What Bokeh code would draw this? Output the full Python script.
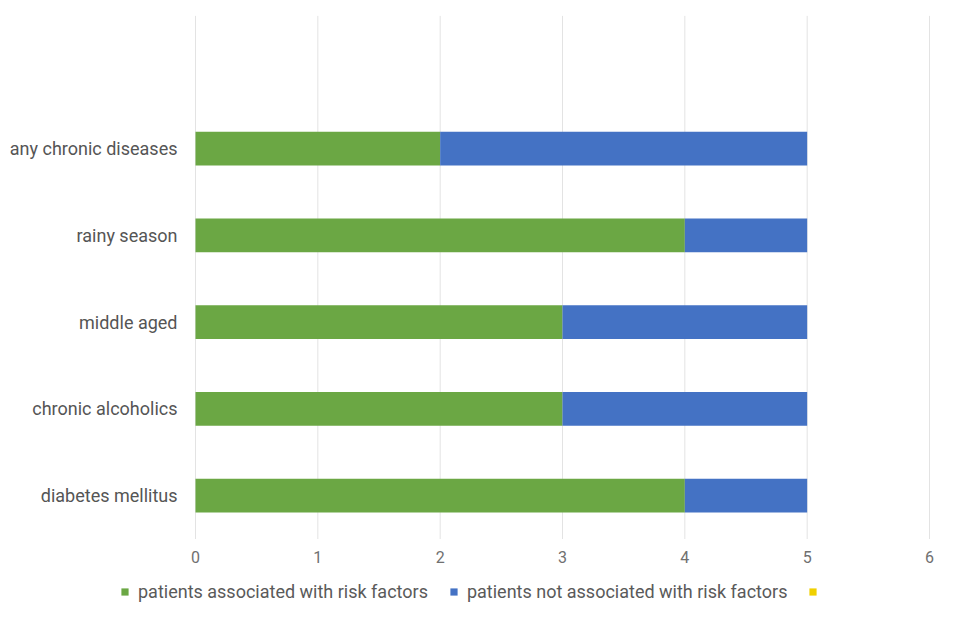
from bokeh.plotting import figure
from bokeh.models import ColumnDataSource, Legend, LegendItem, FixedTicker, Range1d
from bokeh.embed import file_html
from bokeh.resources import INLINE

categories = ["diabetes mellitus", "chronic alcoholics", "middle aged", "rainy season", "any chronic diseases"]
associated = [4, 3, 3, 4, 2]
not_associated = [1, 2, 2, 1, 3]
x_ticks = [0, 1, 2, 3, 4, 5, 6]
series_names = ["patients associated with risk factors", "patients not associated with risk factors", " "]
colors = ["#6ba744", "#4472c4", "#f0d000"]

pos = list(range(len(categories)))
left2 = associated
right2 = [a + b for a, b in zip(associated, not_associated)]
src = ColumnDataSource(dict(y=pos, a=associated, l2=left2, r2=right2))

# layout: value 0 at px 195, 6 at px 929; category slots 86.75 px, frame spans whole canvas
W, H = 955, 632
xpx = (929 - 195) / 6.0
ypx = 86.75
x0 = -195 / xpx
x1 = 6 + (W - 929) / xpx
ytop = 5.5 + 18 / ypx
ybot = 5.5 - (H - 18) / ypx

p = figure(frame_width=W, frame_height=H, output_backend="svg", toolbar_location=None,
           x_range=Range1d(x0, x1), y_range=Range1d(ybot, ytop),
           min_border=0)
p.outline_line_color = None
p.background_fill_color = "white"
p.xgrid.grid_line_color = None
p.ygrid.grid_line_color = None

grid_src = ColumnDataSource(dict(x=x_ticks))
p.segment(x0="x", y0=-0.5, x1="x", y1=5.53, source=grid_src, line_color="#e3e3e3", line_width=1)

r1 = p.hbar(y="y", left=0, right="a", height=0.39, source=src, color=colors[0], line_color=None)
r2 = p.hbar(y="y", left="l2", right="r2", height=0.39, source=src, color=colors[1], line_color=None)
r3 = p.hbar(y=[-5], left=[0], right=[0], height=0.39, color=colors[2], line_color=None)

p.xaxis.ticker = FixedTicker(ticks=x_ticks)
p.yaxis.ticker = FixedTicker(ticks=pos)
p.yaxis.major_label_overrides = {i: c for i, c in enumerate(categories)}
p.xaxis.fixed_location = -0.5
p.yaxis.fixed_location = 0
for ax in (p.xaxis[0], p.yaxis[0]):
    ax.axis_line_color = None
    ax.major_tick_line_color = None
    ax.minor_tick_line_color = None
    ax.major_label_text_font = "Roboto"
p.yaxis.major_label_text_font_size = "18px"
p.xaxis.major_label_text_font_size = "16px"
p.yaxis.major_label_text_color = "#555555"
p.xaxis.major_label_text_color = "#707070"
p.yaxis.major_label_standoff = 12
p.xaxis.major_label_standoff = 6

legend = Legend(items=[LegendItem(label=series_names[0], renderers=[r1]),
                       LegendItem(label=series_names[1], renderers=[r2]),
                       LegendItem(label=series_names[2], renderers=[r3])],
                orientation="horizontal", location=(120, 30),
                glyph_width=9, glyph_height=9, label_height=16, label_text_font="Roboto",
                label_text_font_size="18px", label_text_color="#5a5a5a",
                border_line_color=None, background_fill_alpha=0, spacing=21, label_standoff=9,
                padding=0, margin=0)
p.add_layout(legend, "center")

open("out.html", "w").write(file_html(p, INLINE))
